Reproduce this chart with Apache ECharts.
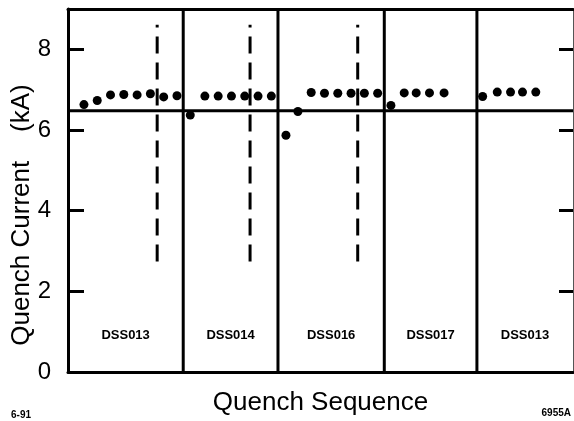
<!DOCTYPE html>
<html>
<head>
<meta charset="utf-8">
<script src="https://cdn.jsdelivr.net/npm/echarts@6/dist/echarts.min.js"></script>
<style>
  html, body { margin: 0; padding: 0; background: #fff; }
  #chart { width: 574px; height: 421px; }
</style>
</head>
<body>
<div id="chart"></div>
<script>
// quench sequence position and current (kA) of every quench
const seqX = [1, 2, 3, 4, 5, 6, 7, 8,
  9, 10.1, 11.1, 12.1, 13.1, 14.1, 15.1,
  16.2, 17.1, 18.1, 19.1, 20.1, 21.1, 22.1, 23.1,
  24.1, 25.1, 26, 27, 28.1,
  31, 32.1, 33.1, 34, 35]
const currentKA = [6.63, 6.73, 6.87, 6.88, 6.87, 6.9, 6.82, 6.85,
  6.37, 6.84, 6.84, 6.84, 6.84, 6.84, 6.84,
  5.87, 6.46, 6.93, 6.91, 6.91, 6.91, 6.91, 6.91,
  6.61, 6.92, 6.92, 6.92, 6.92,
  6.83, 6.94, 6.94, 6.94, 6.94]

// magnet names and the boundaries between them
const magnets = ['DSS013', 'DSS014', 'DSS016', 'DSS017', 'DSS013']
const separators = [8.47, 15.6, 23.6, 30.57]
// thermal cycle marks (dashed) and the short-sample limit line
const cycleMarks = [6.51, 13.5, 21.6]
const dashRange = [2.74, 8.61]
const limitKA = 6.48
const xRange = [-0.2, 37.8]
const yTicks = [0, 2, 4, 6, 8]
const labelY = 0.9

const bounds = [xRange[0], ...separators, xRange[1]]
const labelPts = magnets.map((m, i) => [(bounds[i] + bounds[i + 1]) / 2, labelY, m])

const chart = echarts.init(document.getElementById('chart'))

const vLine = (x, y0, y1, dashed) => ({
  type: 'line',
  data: [[x, y0], [x, y1]],
  symbol: 'none',
  silent: true,
  lineStyle: { color: '#000', width: 3, type: dashed ? [17, 9] : 'solid' },
})

const option = {
  animation: false,
  grid: { left: 68, right: 1, top: 9, bottom: 44 },
  xAxis: [
    {
      type: 'value', min: xRange[0], max: xRange[1],
      name: 'Quench Sequence', nameLocation: 'middle', nameGap: 18,
      nameTextStyle: { fontFamily: 'Liberation Sans', fontSize: 26, color: '#000' },
      axisLine: { onZero: false, lineStyle: { color: '#000', width: 3 } },
      axisTick: { show: false }, axisLabel: { show: false }, splitLine: { show: false },
    },
    {
      type: 'value', position: 'top', min: xRange[0], max: xRange[1],
      axisLine: { show: true, onZero: false, lineStyle: { color: '#000', width: 3 } },
      axisTick: { show: false }, axisLabel: { show: false }, splitLine: { show: false },
    },
  ],
  yAxis: [
    {
      type: 'value', min: 0, max: 9, interval: 2,
      axisLine: { show: true, onZero: false, lineStyle: { color: '#000', width: 3 } },
      axisTick: { show: true, inside: true, length: 16, lineStyle: { color: '#000', width: 3 } },
      axisLabel: {
        showMaxLabel: false, margin: 17, color: '#000',
        fontFamily: 'Liberation Sans', fontSize: 24,
        formatter: v => (yTicks.includes(v) ? String(v) : ''),
      },
      splitLine: { show: false },
    },
    {
      type: 'value', position: 'right', min: 0, max: 9, interval: 2,
      axisLine: { show: true, onZero: false, lineStyle: { color: '#555', width: 1 } },
      axisTick: { show: true, inside: true, length: 14, lineStyle: { color: '#000', width: 3 } },
      axisLabel: { show: false }, splitLine: { show: false },
    },
  ],
  graphic: [
    {
      type: 'text', x: 22, y: 215, rotation: Math.PI / 2,
      style: {
        text: 'Quench Current    (kA)', fill: '#000',
        font: '26px "Liberation Sans"', align: 'center', verticalAlign: 'middle',
      },
    },
    {
      type: 'text', left: 11, top: 410,
      style: { text: '6-91', fill: '#000', font: 'bold 10px "Liberation Sans"' },
    },
    {
      type: 'text', right: 3, top: 408,
      style: { text: '6955A', fill: '#000', font: 'bold 10px "Liberation Sans"' },
    },
  ],
  series: [
    ...separators.map(x => vLine(x, 0, 9, false)),
    ...cycleMarks.map(x => vLine(x, dashRange[0], dashRange[1], true)),
    {
      type: 'line',
      data: [[xRange[0], limitKA], [xRange[1], limitKA]],
      symbol: 'none', silent: true,
      lineStyle: { color: '#000', width: 3 },
    },
    {
      type: 'scatter',
      data: seqX.map((x, i) => [x, currentKA[i]]),
      symbol: 'circle', symbolSize: 9,
      itemStyle: { color: '#000', opacity: 1 },
      z: 5,
    },
    {
      type: 'scatter',
      data: labelPts,
      symbolSize: 0,
      silent: true,
      itemStyle: { opacity: 1 },
      label: {
        show: true, position: 'inside', formatter: p => p.data[2], opacity: 1,
        color: '#000', fontFamily: 'Liberation Sans', fontSize: 13, fontWeight: 'bold',
      },
    },
  ],
}

chart.setOption(option)
</script>
</body>
</html>
